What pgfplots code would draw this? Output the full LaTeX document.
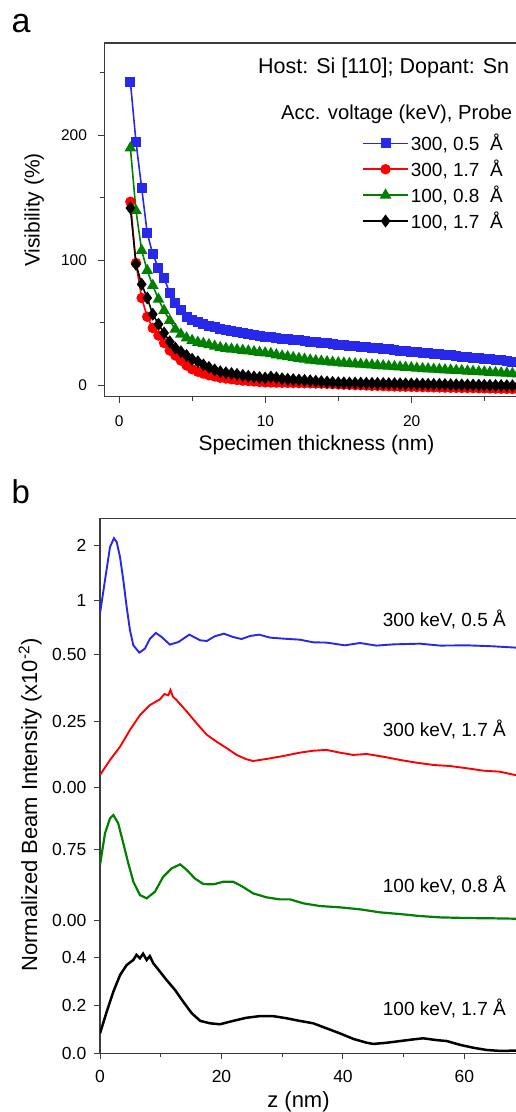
\documentclass[border=0pt]{standalone}
\usepackage{fontspec}
\setmainfont{Liberation Sans}
\usepackage{pgfplots}
\usepackage{pgfplotstable}
\pgfplotsset{compat=1.18}
\definecolor{cblue}{RGB}{40,40,235}
\definecolor{cred}{RGB}{255,0,0}
\definecolor{cgreen}{RGB}{0,128,0}
\definecolor{frame}{RGB}{60,60,60}

\pgfplotstableread{
x b g r k
0.77 243 190 147 142
1.15 195 140 98 97
1.54 158 108 70 81
1.92 122 92 55 70
2.30 105 80 46 57
2.69 94 69 40 49
3.07 86 60 34 42
3.46 74 52 28 35
3.84 66 45 24 30
4.22 60 41 20 27
4.61 55 38 16 24
4.99 52 36 13 21
5.38 50.7 34.5 11 19
5.76 49.3 33.6 9.5 16.5
6.14 47.9 32.6 8.2 14.5
6.53 46.4 31.4 7.2 12.5
6.91 44.9 30.3 6.2 11
7.30 44.0 29.6 5.6 10.2
7.68 43.3 29.1 5.0 9.6
8.06 42.6 28.6 4.4 8.9
8.45 41.8 28.1 3.9 8.1
8.83 41.1 27.6 3.6 7.4
9.22 40.4 27.0 3.2 6.8
9.60 39.7 26.5 2.8 6.4
9.98 39.0 26.0 2.5 6.0
10.37 38.5 25.5 2.4 6.8
10.75 38.0 24.5 2.3 6.2
11.14 37.5 23.6 2.2 5.4
11.52 37.1 23.0 2.1 5.0
11.90 36.6 22.3 2.0 4.7
12.29 36.1 21.6 1.9 4.4
12.67 35.6 21.0 1.8 4.1
13.06 35.1 20.3 1.7 3.8
13.44 34.6 19.8 1.6 3.4
13.82 34.1 19.4 1.5 3.1
14.21 33.6 19.0 1.3 2.8
14.59 33.1 18.6 1.1 2.5
14.98 32.6 18.2 0.9 2.2
15.36 32.2 17.9 0.7 2.1
15.74 31.8 17.6 0.5 2.0
16.13 31.3 17.3 0.3 2.0
16.51 30.9 17.0 0.2 1.9
16.90 30.5 16.7 0.0 1.8
17.28 30.0 16.4 -0.2 1.7
17.66 29.6 16.1 -0.3 1.7
18.05 29.2 15.7 -0.5 1.6
18.43 28.8 15.4 -0.6 1.5
18.82 28.3 15.1 -0.8 1.5
19.20 27.9 14.8 -0.9 1.4
19.58 27.5 14.5 -1.0 1.3
19.97 27.0 14.2 -1.1 1.3
20.35 26.6 13.8 -1.2 1.2
20.74 26.2 13.5 -1.3 1.1
21.12 25.7 13.3 -1.4 1.0
21.50 25.3 13.0 -1.5 0.9
21.89 24.8 12.8 -1.6 0.9
22.27 24.4 12.5 -1.7 0.8
22.66 24.0 12.3 -1.8 0.7
23.04 23.5 12.0 -1.9 0.6
23.42 23.1 11.8 -2.0 0.5
23.81 22.6 11.5 -2.0 0.4
24.19 22.2 11.3 -2.1 0.4
24.58 21.8 11.0 -2.2 0.3
24.96 21.3 10.8 -2.3 0.2
25.34 20.9 10.5 -2.4 0.1
25.73 20.5 10.3 -2.5 0.0
26.11 20.0 10.0 -2.6 0.0
26.50 19.6 9.8 -2.7 -0.1
26.88 19.1 9.5 -2.8 -0.2
27.26 18.7 9.3 -2.9 -0.3
27.65 18.3 9.1 -3.0 -0.3
28.03 17.9 8.9 -3.0 -0.4
}\visdata

\pgfplotsset{
  subax/.style={anchor=south west, scale only axis, width=455.6pt,
    xmin=0, xmax=75, xtick=\empty, axis line style={draw=none},
    ytick pos=left, tick align=outside, major tick length=6pt,
    tick style={frame, line width=1pt},
    yticklabel style={font=\fontsize{17.5}{20}\selectfont, xshift=-4.2pt},
    /pgf/number format/assume math mode=true}
}

\begin{document}
\begin{tikzpicture}
% ---------- panel a ----------
\begin{axis}[
  at={(104.5pt,1069pt)}, anchor=north west, scale only axis,
  width=424.3pt, height=353.75pt,
  xmin=-1, xmax=28, ymin=-9, ymax=274,
  axis line style={frame, line width=1.2pt},
  tick style={frame, line width=1pt},
  tick align=outside, xtick pos=bottom, ytick pos=left,
  xtick={0,10,20}, minor xtick={5,15,25},
  ytick={0,100,200}, minor ytick={50,150,250},
  major tick length=6pt, minor tick length=4pt,
  tick label style={font=\fontsize{15.5}{18}\selectfont},
  xticklabel style={yshift=-9pt},
  yticklabel style={xshift=-8pt},
  /pgf/number format/assume math mode=true,
  legend style={at={(axis description cs:0.607,0.748)}, anchor=north west,
    draw=none, fill=none, inner sep=0pt, row sep=3.8pt,
    font=\fontsize{19}{22}\selectfont, cells={anchor=west}},
  legend image code/.code={\draw[mark repeat=2,mark phase=2]
    plot coordinates {(0pt,0pt) (22.5pt,0pt) (45pt,0pt)};},
]
\addplot[cblue, line width=1.6pt, mark=square*, mark size=4.2pt, mark options={solid}] table[x=x,y=b]{\visdata};
\addlegendentry{300, 0.5~~Å}
\addplot[cred, line width=1.6pt, mark=*, mark size=4.4pt, mark options={solid}] table[x=x,y=r]{\visdata};
\addlegendentry{300, 1.7~~Å}
\addplot[cgreen, line width=1.6pt, mark=triangle*, mark size=5.2pt, mark options={solid}] table[x=x,y=g]{\visdata};
\addlegendentry{100, 0.8~~Å}
\addplot[black, line width=1.6pt, mark=diamond*, mark size=5.2pt, mark options={solid}] table[x=x,y=k]{\visdata};
\addlegendentry{100, 1.7~~Å}
\end{axis}
\node[anchor=base west, inner sep=0pt, font=\fontsize{21.5}{24}\selectfont] at (258pt,1038.7pt) {Host: Si [110]; Dopant: Sn};
\node[anchor=base west, inner sep=0pt, font=\fontsize{20.2}{22}\selectfont] at (281pt,992pt) {Acc. voltage (keV), Probe};
\node[anchor=base, rotate=90, inner sep=0pt, font=\fontsize{21}{24}\selectfont] at (39.5pt,902pt) {Visibility (\%)};
\node[anchor=base, inner sep=0pt, font=\fontsize{21}{24}\selectfont] at (316.5pt,661pt) {Specimen thickness (nm)};
\node[anchor=base west, inner sep=0pt, font=\fontsize{34}{38}\selectfont] at (11.5pt,1079.7pt) {a};
\node[anchor=base west, inner sep=0pt, font=\fontsize{33}{38}\selectfont] at (11.5pt,608.7pt) {b};

% ---------- panel b: frame ----------
\begin{axis}[
  at={(100pt,58.7pt)}, anchor=south west, scale only axis,
  width=455.6pt, height=535pt,
  xmin=0, xmax=75, ymin=0, ymax=1, ytick=\empty,
  axis line style={frame, line width=1.2pt},
  tick style={frame, line width=1pt},
  tick align=outside, xtick pos=bottom,
  xtick={0,20,40,60}, minor xtick={10,30,50,70},
  major tick length=6pt, minor tick length=4pt,
  tick label style={font=\fontsize{17.5}{20}\selectfont},
  xticklabel style={yshift=-7pt},
  /pgf/number format/assume math mode=true,
]
\addplot[draw=none] coordinates {(0,0)};
\end{axis}
% 100 keV, 1.7 A
\begin{axis}[subax, at={(100pt,58.7pt)}, height=120pt, ymin=0, ymax=0.5,
  ytick={0,0.2,0.4}, yticklabels={0.0,0.2,0.4}]
\addplot[black, line width=2.5pt] coordinates {
(0,0.083) (1.1,0.173) (2.2,0.257) (3.3,0.326) (4.4,0.368) (5.49,0.389) (6.0,0.41) (6.58,0.396) (7.1,0.415) (7.68,0.389) (8.2,0.405) (8.78,0.375) (9.88,0.34) (10.97,0.305) (12.35,0.264) (13.7,0.215) (15.1,0.167) (16.5,0.135) (18.1,0.125) (19.75,0.121) (21.9,0.135) (24.1,0.148) (26.3,0.155) (28.5,0.155) (30.7,0.146) (32.9,0.135) (35.1,0.125) (37.3,0.104) (39.5,0.083) (41.7,0.06) (43.9,0.044) (45,0.039) (47.2,0.044) (49.4,0.051) (51.6,0.058) (53.2,0.0625) (55.4,0.055) (57.1,0.051) (59.3,0.035) (61.5,0.023) (63.6,0.014) (65.8,0.01) (68.3,0.011) (72,0.011)};
\end{axis}
% 100 keV, 0.8 A
\begin{axis}[subax, at={(100pt,182.5pt)}, height=142pt, ymin=-0.1, ymax=1.4,
  ytick={0,0.75}, yticklabels={0.00,0.75}]
\addplot[cgreen, line width=2.2pt] coordinates {
(0,0.58) (0.82,0.915) (1.65,1.074) (2.2,1.109) (3.0,1.021) (3.84,0.81) (4.66,0.599) (5.49,0.405) (6.58,0.264) (7.68,0.229) (9.05,0.299) (10.4,0.457) (11.8,0.546) (13.2,0.588) (14.3,0.528) (15.6,0.44) (17,0.38) (18.7,0.377) (20.3,0.405) (21.9,0.405) (23.3,0.359) (25.2,0.282) (27.4,0.24) (29.6,0.218) (31.3,0.218) (33.5,0.176) (36.2,0.148) (39.5,0.134) (42.8,0.113) (46.1,0.081) (49.4,0.063) (52.7,0.042) (56,0.028) (60.4,0.021) (64.7,0.018) (68.3,0.014) (72,0.013)};
\end{axis}
% 300 keV, 1.7 A
\begin{axis}[subax, at={(100pt,321.7pt)}, height=121.4pt, ymin=-0.01, ymax=0.45,
  ytick={0,0.25}, yticklabels={0.00,0.25}]
\addplot[cred, line width=1.9pt] coordinates {
(0,0.048) (1.65,0.105) (3.3,0.155) (4.94,0.219) (6.58,0.275) (8.23,0.313) (9.88,0.335) (10.6,0.355) (11.25,0.35) (11.6,0.37) (12.0,0.345) (12.6,0.332) (14.3,0.288) (15.9,0.244) (17.6,0.2) (19.2,0.174) (20.9,0.149) (22.5,0.124) (24.1,0.1075) (25.2,0.101) (27.4,0.1087) (30.2,0.12) (32.9,0.1326) (35.1,0.140) (37.3,0.143) (39.5,0.1326) (41.7,0.124) (43.9,0.1276) (46.6,0.1174) (49.4,0.105) (52.1,0.0947) (54.9,0.086) (57.6,0.082) (60.4,0.0735) (63.1,0.0644) (65.8,0.0606) (68.3,0.048) (72,0.045)};
\end{axis}
% 300 keV, 0.5 A (logarithmic: values plotted through log10)
\begin{axis}[subax, at={(100pt,443.3pt)}, height=149.5pt, ymin=-0.3768, ymax=0.4472,
  ytick={-0.30103,0,0.30103}, yticklabels={0.50,1,2}]
\addplot[cblue, line width=1.9pt, y filter/.expression={log10(y)}] coordinates {
(0,0.845) (0.82,1.29) (1.65,1.97) (2.3,2.2) (2.74,2.1) (3.3,1.73) (3.84,1.29) (4.39,0.919) (4.94,0.683) (5.49,0.565) (6.47,0.515) (7.4,0.542) (8.23,0.615) (9.2,0.661) (10.15,0.628) (11.5,0.570) (12.9,0.589) (14.7,0.647) (16.5,0.602) (17.6,0.597) (18.9,0.634) (20.4,0.655) (21.9,0.628) (23.3,0.612) (24.7,0.636) (26.2,0.647) (28,0.623) (30.2,0.615) (32.9,0.607) (35.1,0.587) (37.3,0.585) (40.3,0.565) (42.8,0.582) (45.5,0.563) (48.3,0.572) (52.7,0.577) (56,0.563) (60.4,0.565) (64.7,0.558) (68.3,0.549) (72,0.545)};
\end{axis}
\node[anchor=base west, inner sep=0pt, font=\fontsize{19}{22}\selectfont] at (382.7pt,485pt) {300 keV, 0.5 Å};
\node[anchor=base west, inner sep=0pt, font=\fontsize{19}{22}\selectfont] at (382.7pt,375pt) {300 keV, 1.7 Å};
\node[anchor=base west, inner sep=0pt, font=\fontsize{19}{22}\selectfont] at (382.7pt,219pt) {100 keV, 0.8 Å};
\node[anchor=base west, inner sep=0pt, font=\fontsize{19}{22}\selectfont] at (382.7pt,96pt) {100 keV, 1.7 Å};
\node[anchor=base, rotate=90, inner sep=0pt, font=\fontsize{22}{24}\selectfont] at (37pt,307pt) {Normalized Beam Intensity (x10\textsuperscript{-2})};
\node[anchor=base, inner sep=0pt, font=\fontsize{22}{24}\selectfont] at (298.5pt,4.3pt) {z (nm)};
\pgfresetboundingbox
\clip (0pt,0pt) rectangle (515pt,1112pt);
\path[use as bounding box] (0pt,0pt) rectangle (515pt,1112pt);
\end{tikzpicture}
\end{document}
